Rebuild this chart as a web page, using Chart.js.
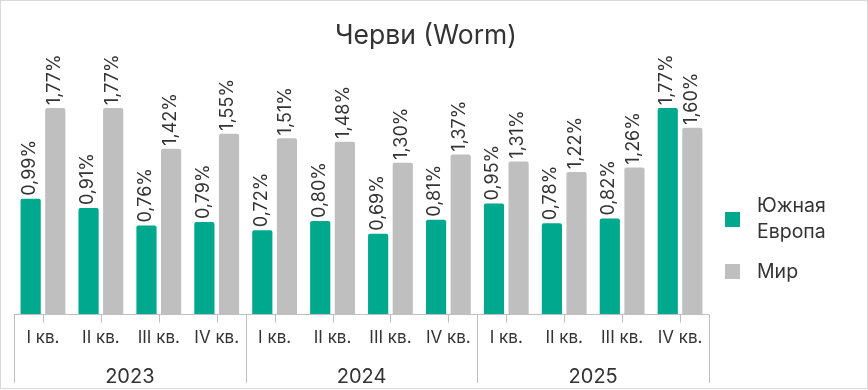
<!DOCTYPE html>
<html>
<head>
<meta charset="utf-8">
<script src="https://cdn.jsdelivr.net/npm/chart.js@4.4.1/dist/chart.umd.min.js"></script>
<style>
    html, body { margin: 0; padding: 0; background: #fff; }
    #wrap { width: 868px; height: 390px; }
</style>
</head>
<body>
<div id="wrap"><canvas id="wormChart" width="868" height="390"></canvas></div>
<script>
// Data
const quarters = ['I кв.', 'II кв.', 'III кв.', 'IV кв.', 'I кв.', 'II кв.', 'III кв.', 'IV кв.', 'I кв.', 'II кв.', 'III кв.', 'IV кв.'];
const years = ['2023', '2024', '2025'];
const southEurope = [0.99, 0.91, 0.76, 0.79, 0.72, 0.80, 0.69, 0.81, 0.95, 0.78, 0.82, 1.77];
const world = [1.77, 1.77, 1.42, 1.55, 1.51, 1.48, 1.30, 1.37, 1.31, 1.22, 1.26, 1.60];
const seriesNames = ['Южная Европа', 'Мир'];
const colors = ['#00a88e', '#bfbfbf'];

const FONT = 'Inter, "Open Sans", sans-serif';
const TEXT = '#333333';
const LINE = '#bfbfbf';

const fmt = v => v.toFixed(2).replace('.', ',') + '%';

// draws title, value labels, two-level axis, legend and frame
const decorPlugin = {
    id: 'decor',
    afterDatasetsDraw(chart) {
        const ctx = chart.ctx;
        const x = chart.scales.x;
        const area = chart.chartArea;
        ctx.save();

        // value labels, rotated
        ctx.fillStyle = TEXT;
        ctx.font = '18px ' + FONT;
        ctx.textAlign = 'left';
        ctx.textBaseline = 'middle';
        chart.data.datasets.forEach((ds, di) => {
            chart.getDatasetMeta(di).data.forEach((bar, i) => {
                ctx.save();
                ctx.translate(bar.x - 1, bar.y - 3);
                ctx.rotate(-Math.PI / 2);
                ctx.fillText(fmt(ds.data[i]), 0, 0);
                ctx.restore();
            });
        });

        // axis
        const step = x.getPixelForValue(1) - x.getPixelForValue(0);
        const base = Math.round(area.bottom) + 0.5;
        ctx.strokeStyle = LINE;
        ctx.lineWidth = 1;
        ctx.beginPath();
        ctx.moveTo(area.left, base);
        ctx.lineTo(area.right, base);
        quarters.forEach((q, i) => {
            const cx = Math.round(x.getPixelForValue(i)) + 0.5;
            ctx.moveTo(cx, base);
            ctx.lineTo(cx, base + 8);
        });
        for (let g = 0; g <= years.length; g++) {
            const bx = Math.round(x.getPixelForValue(g * 4) - step / 2) + 0.5;
            ctx.moveTo(bx, base);
            ctx.lineTo(bx, 383);
        }
        ctx.stroke();

        ctx.fillStyle = TEXT;
        ctx.textAlign = 'center';
        ctx.textBaseline = 'middle';
        ctx.font = '17px ' + FONT;
        quarters.forEach((q, i) => ctx.fillText(q, x.getPixelForValue(i), 338));
        ctx.font = '20px ' + FONT;
        years.forEach((y, g) => {
            const cx = (x.getPixelForValue(g * 4) + x.getPixelForValue(g * 4 + 3)) / 2;
            ctx.fillText(y, cx, 377);
        });

        // title
        ctx.font = '26.5px ' + FONT;
        ctx.fillText('Черви (Worm)', 426, 36);

        // legend
        ctx.textAlign = 'left';
        ctx.font = '19.5px ' + FONT;
        ctx.fillStyle = colors[0];
        ctx.fillRect(725, 212, 15, 15);
        ctx.fillStyle = colors[1];
        ctx.fillRect(725, 264, 15, 15);
        ctx.fillStyle = TEXT;
        ctx.fillText('Южная', 757, 206);
        ctx.fillText('Европа', 757, 232);
        ctx.fillText('Мир', 757, 272);

        // frame
        ctx.strokeStyle = '#d9d9d9';
        ctx.strokeRect(0.5, 0.5, 867, 388);
        ctx.restore();
    }
};

new Chart(document.getElementById('wormChart'), {
    type: 'bar',
    data: {
        labels: quarters,
        datasets: [
            { label: seriesNames[0], data: southEurope, backgroundColor: colors[0] },
            { label: seriesNames[1], data: world, backgroundColor: colors[1] }
        ]
    },
    options: {
        responsive: false,
        animation: false,
        layout: { padding: { left: 14, right: 159, top: 58, bottom: 76 } },
        datasets: {
            bar: { categoryPercentage: 0.85, barPercentage: 0.82, borderRadius: 2, borderSkipped: 'bottom' }
        },
        plugins: { legend: { display: false }, tooltip: { enabled: false } },
        scales: {
            x: { display: false },
            y: { display: false, min: 0, max: 2.2 }
        }
    },
    plugins: [decorPlugin]
});
</script>
</body>
</html>
